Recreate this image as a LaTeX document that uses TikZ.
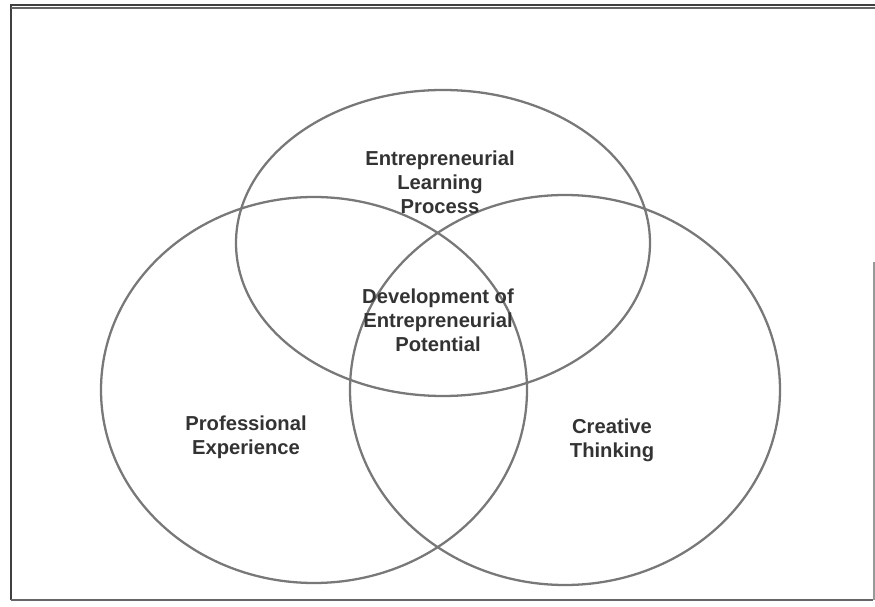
\documentclass[tikz,border=0pt]{standalone}
\usepackage{fontspec}
\setmainfont{Liberation Sans}
\usetikzlibrary{positioning}
\definecolor{grisTrait}{RGB}{120,120,120}
\begin{document}
\begin{tikzpicture}[x=0.02cm, y=-0.02cm,
    cercle/.style={draw=grisTrait, line width=1.3pt},
    etiquette/.style={align=center, font=\fontsize{11.5}{13.6}\selectfont\bfseries, text=black!80}]
        % Cadre
        \useasboundingbox (0,0) rectangle (875,607);
        \draw[line width=1.2pt, black!75] (11,600) -- (11,5) -- (875,5);
        \draw[line width=0.6pt, black!60] (11,8) -- (875,8);
        \draw[line width=1.2pt, black!60] (11,600) -- (873,600);
        \draw[line width=0.6pt, black!40] (874,262) -- (874,600);
        
        % Ellipses
        \draw[cercle] (443,243) ellipse (207 and 153);
        \draw[cercle] (314,390) ellipse (213 and 193);
        \draw[cercle] (565,390) ellipse (215 and 195);
        
        % Textes
        \node[etiquette] (haut) at (440,182) {Entrepreneurial\\Learning\\Process};
        \node[etiquette] (centre) at (438,320) {Development of\\Entrepreneurial\\Potential};
        \node[etiquette] (gauche) at (246,437) {Professional\\Experience};
        \node[etiquette] (droite) at (612,440) {Creative\\Thinking};
    \end{tikzpicture}
\end{document}
